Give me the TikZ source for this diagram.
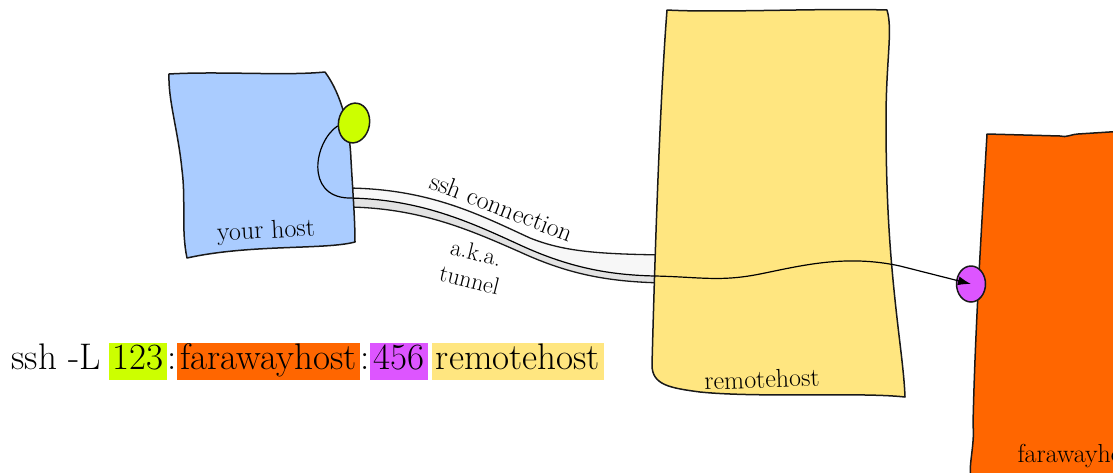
\documentclass[tikz,border=0pt]{standalone}
\usepackage{fontspec}
\usepackage{tikz}
\usetikzlibrary{arrows.meta,positioning,shapes.geometric}
\definecolor{hostblue}{HTML}{AACCFF}
\definecolor{portgreen}{HTML}{CCFF00}
\definecolor{remoteyellow}{HTML}{FFE680}
\definecolor{farorange}{HTML}{FF6600}
\definecolor{portpurple}{HTML}{DD55FF}

\begin{document}
\begin{tikzpicture}[x=1pt, y=-1pt,
  every node/.style={font=\fontsize{26}{31}\selectfont},
  hostline/.style={draw=black!90, line width=1.5pt, line join=round},
  tubeline/.style={draw=black!90, line width=1.3pt},
  port/.style={ellipse, draw=black!90, line width=1.5pt, inner sep=0pt},
  cmdpart/.style={font=\fontsize{37}{42}\selectfont, text height=24.5pt, text depth=7.5pt, inner ysep=2.5pt, inner xsep=3.5pt},
  wire/.style={line width=1.2pt, -{Latex[length=13pt,width=9pt]}}
]
  \useasboundingbox (0,0) rectangle (1113,472);

  \fill[black!3] (348,188) .. controls (430,189) and (480,215) .. (530,238) .. controls (565,252) and (600,254) .. (665,255)
    -- (665,276) .. controls (610,275) and (570,268) .. (520,245) .. controls (470,222) and (420,199) .. (348,198) -- cycle;
  \fill[black!11] (348,198) .. controls (420,199) and (470,222) .. (520,245) .. controls (570,268) and (610,275) .. (665,276)
    -- (665,283) .. controls (610,282) and (570,275) .. (520,252) .. controls (470,230) and (420,208) .. (348,207) -- cycle;
  \draw[tubeline] (348,188) .. controls (430,189) and (480,215) .. (530,238) .. controls (565,252) and (600,254) .. (665,255);
  \draw[tubeline] (348,207) .. controls (420,208) and (470,230) .. (520,252) .. controls (570,275) and (610,282) .. (665,283);

  \draw[hostline, fill=hostblue] (169,74) .. controls (220,71) and (285,76) .. (325,72)
    .. controls (342,95) and (350,130) .. (351,160) .. controls (353,195) and (355,220) .. (355,242)
    .. controls (325,250) and (250,244) .. (187,258)
    .. controls (181,230) and (186,200) .. (182,170) .. controls (178,130) and (168,100) .. (169,74) -- cycle;
  \draw[hostline, fill=remoteyellow] (667,10) .. controls (720,13) and (820,8) .. (887,10)
    .. controls (893,30) and (886,60) .. (886,120) .. controls (886,200) and (890,250) .. (894,290)
    .. controls (899,340) and (904,370) .. (905,397)
    .. controls (860,392) and (760,398) .. (700,392) .. controls (670,388) and (652,385) .. (652,365)
    .. controls (655,250) and (660,100) .. (667,10) -- cycle;
  \draw[hostline, fill=farorange] (987,134) -- (1060,136) .. controls (1066,138) and (1072,134) .. (1078,134)
    -- (1125,131) -- (1125,480) -- (971,480) .. controls (968,465) and (975,445) .. (973,425)
    .. controls (975,330) and (982,220) .. (987,134) -- cycle;

  \node[rotate=3] (yourlbl) at (266,232) {your host};
  \node[rotate=2] (remotelbl) at (762,379) {remotehost};
  \node[anchor=base west] (farlbl) at (1014,462) {farawayhost};
  \node[rotate=-21] (sshlbl) at (502,207) {ssh connection};
  \node[rotate=-14, align=center, font=\fontsize{24}{28}\selectfont] (akalbl) at (473,266) {a.k.a.\\tunnel};

  \node[port, fill=portgreen, minimum width=31pt, minimum height=40pt, rotate=-10] (lport) at (354,123) {};
  \node[port, fill=portpurple, minimum width=29pt, minimum height=36pt] (rport) at (971,284) {};

  \draw[wire] (lport.200) .. controls (314,142) and (305,196) .. (348,198)
    .. controls (420,199) and (470,222) .. (520,245) .. controls (570,268) and (610,275) .. (655,276)
    .. controls (700,277) and (720,282) .. (760,274) .. controls (800,266) and (845,254) .. (900,266)
    -- (rport.center);

  \node[cmdpart, anchor=west] (sshcmd) at (8,361) {ssh -L};
  \node[cmdpart, fill=portgreen, right=4pt of sshcmd] (lportnum) {123};
  \node[cmdpart, inner xsep=0pt, right=0pt of lportnum] (colonA) {:};
  \node[cmdpart, fill=farorange, right=0pt of colonA] (farname) {farawayhost};
  \node[cmdpart, inner xsep=0pt, right=0pt of farname] (colonB) {:};
  \node[cmdpart, fill=portpurple, right=0pt of colonB] (rportnum) {456};
  \node[cmdpart, fill=remoteyellow, right=4pt of rportnum] (remotename) {remotehost};
\end{tikzpicture}
\end{document}
